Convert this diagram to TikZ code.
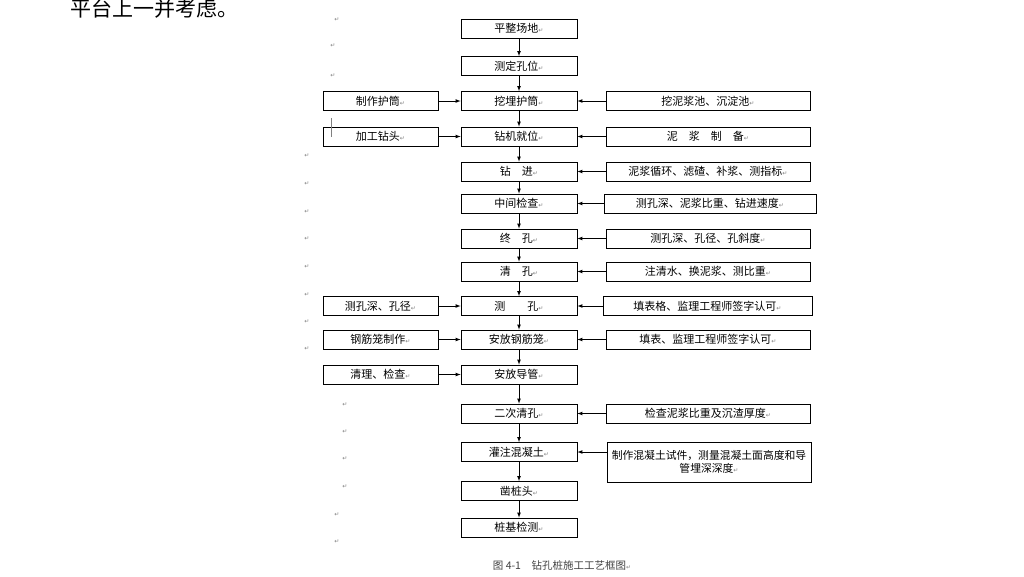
\documentclass[tikz,border=0pt]{standalone}
\usepackage{fontspec}
\setmainfont{Noto Sans CJK SC}
\newfontfamily\symfont{DejaVu Sans}
\newcommand\retmark{{\symfont\color{gray}\fontsize{6}{6}\selectfont ↵}}
\tikzset{
	stepbox/.style={draw,line width=0.8pt,minimum width=116pt,minimum height=19pt,inner sep=1pt,font=\fontsize{11}{12}\selectfont},
	leftbox/.style={stepbox,minimum width=115pt},
	rightbox/.style={stepbox,minimum width=204pt},
	flow/.style={-latex,line width=0.7pt}
}
\begin{document}
\begin{tikzpicture}[x=1pt,y=-1pt]
	\useasboundingbox (0,0) rectangle (1024,576);
	\node[anchor=base west,font=\fontsize{21}{21}\selectfont] (head) at (67,16) {平台上一并考虑。};
	\foreach \n/\y/\t in {a/28.5/平整场地, b/66/测定孔位, c/101/挖埋护筒, d/136.5/钻机就位, e/171.5/钻　进, f/203.5/中间检查, g/238.5/终　孔, h/271.5/清　孔, i/306/测　　孔, j/339.5/安放钢筋笼, k/374.5/安放导管, l/413.5/二次清孔, m/452/灌注混凝土, n/491/凿桩头, o/527.5/桩基检测}
		\node[stepbox] (\n) at (519,\y) {\t\retmark};
	\foreach \p/\q in {a/b,b/c,c/d,d/e,e/f,f/g,g/h,h/i,i/j,j/k,k/l,l/m,m/n,n/o}
		\draw[flow] (\p) -- (\q);
	\foreach \n/\y/\t in {lc/101/制作护筒, ld/136.5/加工钻头, li/306/测孔深、孔径, lj/339.5/钢筋笼制作, lk/374.5/清理、检查}
		\node[leftbox] (\n) at (380.5,\y) {\t\retmark};
	\foreach \p/\q in {lc/c,ld/d,li/i,lj/j,lk/k}
		\draw[flow] (\p) -- (\q);
	\foreach \n/\y/\t in {rc/101/挖泥浆池、沉淀池, rd/136.5/泥　浆　制　备, re/171.5/泥浆循环、滤碴、补浆、测指标, rg/238.5/测孔深、孔径、孔斜度, rh/271.5/注清水、换泥浆、测比重, rj/339.5/填表、监理工程师签字认可, rl/413.5/检查泥浆比重及沉渣厚度}
		\node[rightbox] (\n) at (708,\y) {\t\retmark};
	\node[rightbox,minimum width=212pt] (rf) at (710,203.5) {测孔深、泥浆比重、钻进速度\retmark};
	\node[rightbox,minimum width=209pt] (ri) at (707.5,306) {填表格、监理工程师签字认可\retmark};
	\node[rightbox,minimum height=40pt,inner sep=0pt,align=center,font=\fontsize{10.8}{13}\selectfont] (rm) at (709,462) {制作混凝土试件，测量混凝土面高度和导\\管埋深深度\retmark};
	\foreach \p/\q in {rc/c,rd/d,re/e,rf/f,rg/g,rh/h,ri/i,rj/j,rl/l}
		\draw[flow] (\p) -- (\q);
	\draw[flow] (m.east -| rm.west) -- (m.east);
	\draw[gray,line width=0.6pt] (331,118) -- (331,137);
	\foreach \x/\y in {337/20,333/46,333/76,307/156,307/184,307/212,307/239,307/267,307/295,307/322,307/349,345/405,345/432,345/459,345/487,337/515,337/542}
		\node[inner sep=0pt] at (\x,\y) {\retmark};
	\node[font=\fontsize{10.5}{11}\selectfont,text=black!75] (cap) at (562,565) {图 4-1　钻孔桩施工工艺框图\retmark};
\end{tikzpicture}
\end{document}
